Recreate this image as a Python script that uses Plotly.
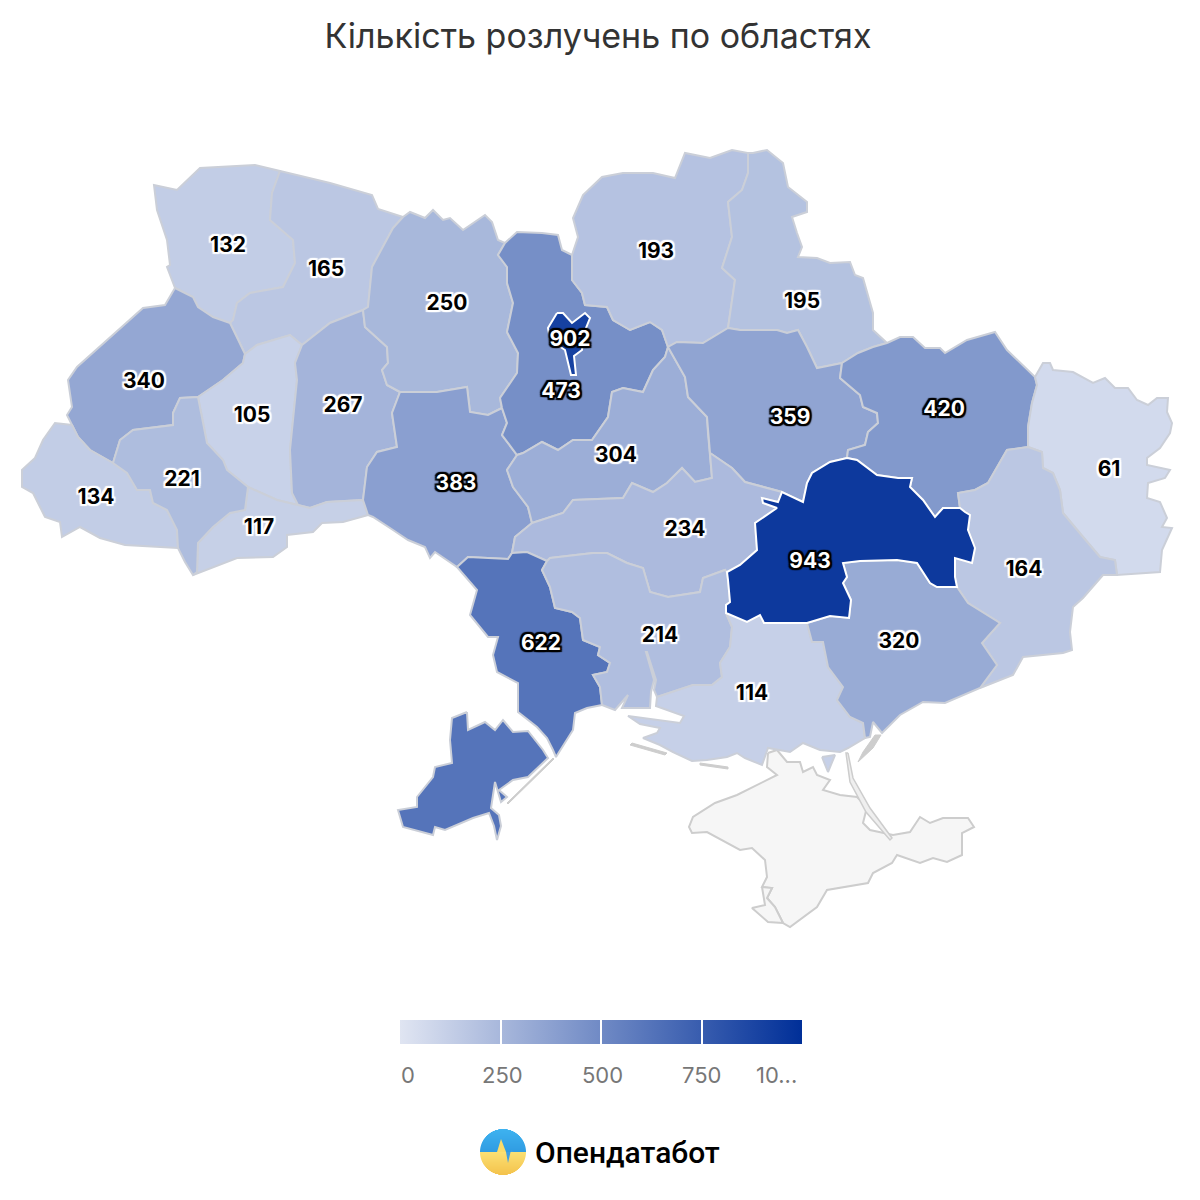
import plotly.graph_objects as go
from plotly.colors import sample_colorscale

# values per oblast
regions = ["Volyn", "Rivne", "Lviv", "Ternopil", "Khmelnytskyi", "Chernivtsi", "Zakarpattia", "Ivano-Frankivsk",
           "Zhytomyr", "Vinnytsia", "Kyiv", "Cherkasy", "Chernihiv", "Sumy", "Poltava", "Kharkiv", "Luhansk",
           "Donetsk", "Kirovohrad", "Odesa", "Mykolaiv", "Kherson", "Zaporizhzhia", "Dnipropetrovsk", "Kyiv city"]
divorces = [132, 165, 340, 105, 267, 117, 134, 221,
            250, 383, 473, 304, 193, 195, 359, 420, 61,
            164, 234, 622, 214, 114, 320, 943, 902]
label_x = [228, 326, 144, 252, 343, 259, 96, 182, 447, 456, 561, 616, 656, 802, 790, 944, 1109, 1024, 685, 541, 660, 752, 899, 810, 570]
label_y = [247, 271, 383, 417, 407, 529, 499, 481, 305, 485, 393, 457, 253, 303, 419, 411, 471, 571, 531, 645, 637, 695, 643, 563, 341]
colorbar_ticks = [0, 250, 500, 750, 1000]
colorbar_labels = ["0", "250", "500", "750", "10..."]
tick_label_x = [408, 502, 602, 702, 776]
colorscale = [[0, "#e0e5f2"], [1, "#002f98"]]

# shared borders in picture units
vol_out = [(175,288),(167,267),(170,265),(167,240),(157,210),(154,185),(177,190),(200,168),(255,165),(280,171)]
vol_riv = [(280,171),(272,193),(270,220),(293,240),(295,263),(283,287),(250,293),(237,303),(233,320),(230,323)]
vol_lvi = [(230,323),(213,317),(198,307),(193,297),(175,288)]
riv_out = [(280,171),(330,183),(372,195),(378,209),(403,217)]
riv_zhy = [(403,217),(393,228),(372,267),(368,307),(363,310)]
riv_khm = [(363,310),(330,323),(302,345)]
riv_ter = [(302,345),(290,335),(257,345),(245,354)]
riv_lvi = [(245,354),(237,337),(230,323)]
lvi_out = [(175,288),(165,305),(143,308),(107,340),(77,367),(68,380),(72,407),(67,415),(72,425)]
lvi_zak = [(72,425),(78,437),(90,450),(113,463)]
lvi_if = [(113,463),(120,440),(133,430),(173,425),(173,413),(180,398),(198,397)]
lvi_ter = [(198,397),(223,380),(243,363),(245,354)]
ter_if = [(198,397),(207,443),(223,460),(227,470),(248,487)]
ter_che = [(248,487),(277,500),(298,505)]
ter_khm = [(298,505),(292,493),(290,450),(293,417),(297,380),(295,363),(302,345)]
khm_zhy = [(363,310),(365,327),(387,347),(388,363),(382,370),(387,385),(400,392)]
khm_vin = [(400,392),(392,413),(397,447),(377,452),(367,467),(363,500)]
khm_che = [(363,500),(327,502),(310,508),(298,505)]
che_out = [(363,500),(368,515),(343,522),(322,523),(313,532),(287,535),(287,547),(273,557),(237,558),(207,570),(193,575)]
che_if = [(193,575),(197,572),(198,543),(213,527),(230,513),(245,510),(248,487)]
zak_if = [(113,463),(127,473),(137,490),(150,490),(153,503),(167,510),(177,530),(178,548)]
if_out = [(178,548),(185,562),(193,575)]
zak_out = [(178,548),(157,547),(125,545),(100,538),(80,527),(62,537),(60,522),(45,517),(33,493),(22,487),(22,470),(35,458),(43,440),(55,423),(72,425)]
zhy_out = [(403,217),(410,212),(425,218),(433,210),(443,220),(450,218),(463,230),(485,215),(492,222),(498,240),(505,243)]
zhy_kyi = [(505,243),(498,255),(507,267),(507,283),(513,303),(507,332),(518,353),(517,373),(500,398),(502,408)]
zhy_vin = [(502,408),(488,415),(470,412),(467,387),(437,392),(400,392)]
vin_kyi = [(502,408),(507,423),(502,435),(517,455)]
vin_cherk = [(517,455),(507,470),(513,487),(528,507),(532,523)]
vin_kir = [(532,523),(515,537),(512,553)]
vin_ode = [(512,553),(508,559),(468,557),(457,567)]
vin_out = [(457,567),(435,552),(430,558),(425,547),(408,540),(393,530),(373,517),(368,515),(363,500)]
kyi_che = [(668,347),(662,330),(650,322),(630,330),(613,320),(607,307),(585,305),(582,293),(572,280),(572,255)]
kyi_out = [(572,255),(562,250),(558,235),(542,233),(517,232),(505,243)]
kyi_cherk = [(517,455),(523,453),(542,442),(558,450),(573,440),(592,440),(608,417),(612,392),(623,388),(643,392),(653,370),(665,357),(668,347)]
cherk_kir = [(532,523),(563,513),(573,500),(623,498),(632,483),(653,492),(667,483),(682,468),(695,482),(712,478),(710,453)]
cherk_pol = [(710,453),(708,433),(707,417),(688,397),(685,377),(668,347)]
chern_out = [(572,255),(578,237),(573,218),(583,195),(602,177),(623,173),(653,173),(675,178),(685,153),(710,158),(732,150),(748,153)]
chern_sum = [(748,153),(748,173),(742,190),(728,202),(732,237),(722,268),(735,280),(728,328)]
chern_pol = [(728,328),(703,343),(677,342),(668,347)]
sum_out = [(748,153),(753,153),(767,150),(783,163),(788,187),(807,202),(807,212),(792,217),(797,233),(802,247),(798,257),(817,258),(830,263),(850,262),(855,275),(863,278),(873,313),(873,330),(887,343)]
sum_khr = [(887,343),(873,347),(858,353),(842,363)]
sum_pol = [(842,363),(817,368),(807,347),(798,330),(787,333),(777,330),(740,330),(728,328)]
pol_khr = [(842,363),(840,378),(860,395),(863,407),(877,413),(878,423),(868,432),(865,445),(848,450),(847,458)]
pol_dni = [(847,458),(830,462),(812,473),(807,483),(803,502),(782,492)]
pol_kir = [(782,492),(745,482),(732,468),(710,453)]
khr_out = [(887,343),(900,337),(913,337),(925,348),(940,348),(945,353),(967,340),(995,332),(1007,350),(1035,377)]
khr_luh = [(1035,377),(1037,385),(1032,403),(1028,427),(1028,447)]
khr_don = [(1028,447),(1007,450),(988,483),(975,490),(958,493),(960,508)]
khr_dni = [(960,508),(943,508),(935,517),(923,500),(910,487),(912,478),(898,478),(877,475),(857,460),(847,458)]
luh_out = [(1035,377),(1043,363),(1050,363),(1053,370),(1073,372),(1093,383),(1105,378),(1115,388),(1128,388),(1137,400),(1148,405),(1157,398),(1168,398),(1167,412),(1172,423),(1170,433),(1160,448),(1147,458),(1147,465),(1170,470),(1165,478),(1148,483),(1147,498),(1160,502),(1167,518),(1162,527),(1172,528),(1162,550),(1160,572),(1117,575)]
luh_don = [(1117,575),(1115,560),(1100,557),(1083,537),(1063,513),(1060,490),(1053,473),(1043,468),(1042,452),(1028,447)]
don_dni = [(960,508),(965,512),(970,515),(968,530),(975,548),(972,563),(955,558),(955,577),(957,587)]
don_zap = [(957,587),(968,603),(1000,623),(982,643),(997,665),(980,688)]
don_out = [(980,688),(1013,675),(1023,657),(1063,653),(1072,650),(1070,632),(1073,607),(1083,598),(1103,575),(1117,575)]
dni_zap = [(957,587),(937,587),(930,583),(917,563),(897,560),(860,561),(843,563),(847,577),(843,583),(851,600),(849,618),(830,616),(807,623)]
dni_khe = [(807,623),(797,623),(764,623),(760,615),(747,622),(726,613)]
dni_myk = [(726,613),(726,605),(730,602),(728,580),(727,572)]
dni_kir = [(727,572),(740,565),(757,550),(755,523),(777,508),(763,503),(762,498),(778,502),(782,492)]
kir_myk = [(547,561),(550,558),(593,553),(607,553),(627,563),(643,568),(650,592),(668,597),(700,592),(703,578),(725,570),(727,572)]
kir_ode = [(512,553),(527,552),(547,561)]
ode_myk = [(547,561),(542,570),(550,587),(555,608),(572,612),(580,618),(583,640),(600,647),(598,655),(610,663),(607,672),(593,675),(600,687),(602,705)]
ode_coast = [(602,705),(587,708),(575,713),(573,730),(556,757),(553,750),(547,738),(537,727),(518,712),(518,683),(497,672),(493,655),(498,637),(488,637),(470,615),(477,590),(457,567)]
myk_khe = [(726,613),(732,627),(730,647),(720,663),(722,677),(712,685),(693,685),(657,697)]
myk_coast = [(657,697),(654,690),(656,680),(647,652),(646,652),(654,680),(651,692),(650,708),(622,708),(628,695),(615,710),(602,705)]
khe_zap = [(807,623),(812,642),(823,642),(828,667),(843,687),(837,700),(850,717),(863,723),(865,738)]
khe_coast = [(865,738),(848,748),(840,752),(820,750),(803,743),(790,752),(768,748),(762,765),(745,758),(737,753),(727,757),(707,760),(692,761),(673,752),(660,745),(643,738),(657,733),(660,728),(640,724),(628,716),(657,720),(680,723),(684,716),(672,712),(656,706),(657,697)]
zap_coast = [(980,688),(945,703),(923,702),(900,715),(882,733),(873,722),(870,737),(865,738)]
bessarabia = [(467,712),(452,718),(450,740),(452,763),(435,767),(433,777),(417,797),(417,807),(398,810),(403,827),(433,835),(435,827),(445,830),(473,818),(489,813),(494,826),(497,840),(501,826),(499,815),(491,808),(495,782),(501,802),(507,797),(499,790),(513,780),(528,777),(548,758),(543,750),(528,731),(513,732),(503,720),(495,730),(485,722),(478,725),(468,730)]
kherson_bit = [(822,757),(835,755),(828,772)]
kyiv_city = [(557,313),(563,313),(572,323),(585,313),(590,318),(584,333),(582,350),(574,356),(576,375),(571,375),(565,350),(550,340),(548,328)]
crimea = [(768,753),(767,767),(777,775),(757,785),(737,795),(715,803),(693,817),(689,827),(692,833),(707,832),(740,850),(752,848),(765,860),(767,877),(762,887),(772,888),(767,898),(775,907),(783,923),(790,927),(817,907),(827,890),(868,883),(873,873),(892,863),(897,855),(920,863),(933,858),(947,862),(962,855),(962,833),(974,827),(968,818),(943,818),(930,823),(920,817),(910,832),(893,835),(870,830),(863,823),(867,807),(857,797),(840,795),(823,790),(830,780),(817,775),(813,767),(803,772),(800,762),(787,762),(777,750)]
sevastopol = [(762,887),(772,888),(767,898),(775,907),(783,923),(768,922),(752,908),(765,905)]
arabat = [(848,753),(853,778),(870,808),(892,838),(890,840),(866,812),(850,782),(846,753)]
spits = [
    [(507,803),(530,780),(553,758),(554,759),(531,781),(508,804)],
    [(632,743),(667,753),(665,755),(630,745)],
    [(700,763),(728,767),(728,769),(700,765)],
    [(881,735),(873,748),(858,762),(863,752),(875,735)],
]


def rev(arc):
    return arc[::-1]


outlines = {
    "Volyn": [vol_out + vol_riv + vol_lvi],
    "Rivne": [riv_out + riv_zhy + riv_khm + riv_ter + riv_lvi + rev(vol_riv)],
    "Lviv": [lvi_out + lvi_zak + lvi_if + lvi_ter + riv_lvi + vol_lvi],
    "Ternopil": [ter_if + ter_che + ter_khm + riv_ter + rev(lvi_ter)],
    "Khmelnytskyi": [rev(riv_khm) + khm_zhy + khm_vin + khm_che + ter_khm],
    "Chernivtsi": [che_out + che_if + ter_che + rev(khm_che)],
    "Zakarpattia": [zak_out + lvi_zak + zak_if],
    "Ivano-Frankivsk": [zak_if + if_out + che_if + rev(ter_if) + rev(lvi_if)],
    "Zhytomyr": [zhy_out + zhy_kyi + zhy_vin + rev(khm_zhy) + rev(riv_zhy)],
    "Vinnytsia": [rev(zhy_vin) + vin_kyi + vin_cherk + vin_kir + vin_ode + vin_out + rev(khm_vin)],
    "Kyiv": [kyi_out + zhy_kyi + vin_kyi + kyi_cherk + kyi_che],
    "Cherkasy": [kyi_cherk + rev(cherk_pol) + rev(cherk_kir) + rev(vin_cherk)],
    "Chernihiv": [chern_out + chern_sum + chern_pol + kyi_che],
    "Sumy": [sum_out + sum_khr + sum_pol + rev(chern_sum)],
    "Poltava": [rev(sum_pol) + pol_khr + pol_dni + pol_kir + cherk_pol + rev(chern_pol)],
    "Kharkiv": [khr_out + khr_luh + khr_don + khr_dni + rev(pol_khr) + rev(sum_khr)],
    "Luhansk": [luh_out + luh_don + rev(khr_luh)],
    "Donetsk": [khr_don + don_dni + don_zap + don_out + luh_don],
    "Dnipropetrovsk": [pol_dni + rev(dni_kir) + rev(dni_myk) + rev(dni_khe) + rev(dni_zap) + rev(don_dni) + khr_dni],
    "Kirovohrad": [cherk_kir + rev(pol_kir) + rev(dni_kir) + rev(kir_myk) + rev(kir_ode) + rev(vin_kir)],
    "Odesa": [ode_coast + rev(vin_ode) + kir_ode + ode_myk, bessarabia],
    "Mykolaiv": [kir_myk + rev(dni_myk) + myk_khe + myk_coast + rev(ode_myk)],
    "Kherson": [rev(myk_khe) + rev(dni_khe) + khe_zap + khe_coast, kherson_bit],
    "Zaporizhzhia": [rev(dni_zap) + don_zap + zap_coast + rev(khe_zap)],
    "Kyiv city": [kyiv_city],
}


def add_area(fig, polys, fill, line, width=2):
    xs, ys = [], []
    for poly in polys:
        closed = list(poly) + [poly[0]]
        xs += [p[0] for p in closed] + [None]
        ys += [p[1] for p in closed] + [None]
    fig.add_trace(go.Scatter(x=xs, y=ys, mode="lines", fill="toself", fillcolor=fill,
                             line=dict(color=line, width=width), hoverinfo="skip", showlegend=False))


fig = go.Figure()

add_area(fig, [crimea], "#f6f6f6", "#cdcdcd")
add_area(fig, [sevastopol], "#f6f6f6", "#cdcdcd")
add_area(fig, [arabat], "#efefef", "#cdcdcd", 1.5)
add_area(fig, spits, "#cdcdcd", "#cdcdcd", 1)

fills = sample_colorscale(colorscale, [v / 1000 for v in divorces])
for name, value, fill in zip(regions, divorces, fills):
    line = "#ffffff" if value > 900 else "#cbcfd8"
    add_area(fig, outlines[name], fill, line)


def halo(color):
    return ",".join(f"{dx}px {dy}px 1px {color}" for dx in (-2, 0, 2) for dy in (-2, 0, 2))


# the labels carry the colour axis, so the colour bar comes from the same values
# darker areas get white digits with a black edge, the rest black with a white edge
for dark in (False, True):
    keep = [i for i, v in enumerate(divorces) if (v >= 350) == dark]
    fig.add_trace(go.Scatter(
        x=[label_x[i] for i in keep],
        y=[label_y[i] for i in keep],
        mode="markers+text",
        text=[str(divorces[i]) for i in keep],
        textposition="middle center",
        textfont=dict(family="Inter", size=21, color="#ffffff" if dark else "#000000", weight=700,
                      shadow=halo("#000000" if dark else "#ffffff")),
        marker=dict(size=1, color=[divorces[i] for i in keep], coloraxis="coloraxis"),
        hoverinfo="skip",
        showlegend=False,
    ))

annotations = []
for x, label in zip(tick_label_x, colorbar_labels):
    annotations.append(dict(x=x, y=1075, xref="x", yref="y", text=label, showarrow=False,
                            xanchor="center", yanchor="middle",
                            font=dict(family="Inter", size=22, color="#777777")))
annotations.append(dict(x=627, y=1152, xref="x", yref="y", text="Опендатабот", showarrow=False,
                        xanchor="center", yanchor="middle",
                        font=dict(family="Roboto", size=30, color="#000000", weight=500)))

shapes = []
# logo disk, one strip per pixel row to get the vertical gradient
for row in range(-23, 23):
    half = (23 ** 2 - (row + 0.5) ** 2) ** 0.5
    if row < 0:
        t = (row + 23) / 23
        color = f"rgb({int(62 - 14 * t)},{int(178 - 22 * t)},{int(240 - 14 * t)})"
    else:
        t = row / 23
        color = f"rgb({int(252 - 8 * t)},{int(224 - 30 * t)},{int(115 - 40 * t)})"
    shapes.append(dict(type="rect", xref="x", yref="y", line_width=0, fillcolor=color,
                       x0=503 - half, x1=503 + half, y0=1152 + row, y1=1153 + row))
pulse_up = [(497, 1152), (501, 1139), (506, 1152)]
pulse_down = [(506, 1152), (508, 1163), (511, 1150), (514, 1152)]
for pts, color in ((pulse_up, "#fbdc6a"), (pulse_down, "#3f9fe2")):
    path = "M " + " L ".join(f"{x},{y}" for x, y in pts) + " Z"
    shapes.append(dict(type="path", xref="x", yref="y", path=path, fillcolor=color, line_width=0))

# the page body sits 8 px in, so the plot is 1192 wide and the axes start at 8
fig.update_layout(
    width=1192, height=1192,
    margin=dict(l=0, r=0, t=0, b=0),
    paper_bgcolor="#ffffff",
    plot_bgcolor="#ffffff",
    xaxis=dict(range=[8, 1200], visible=False, domain=[0, 1]),
    yaxis=dict(range=[1200, 8], visible=False, domain=[0, 1]),
    title=dict(text="Кількість розлучень по областях", x=(598 - 8) / 1192, xanchor="center",
               y=1 - (36 - 8) / 1192, yanchor="middle",
               font=dict(family="Inter", size=34, color="#333333")),
    coloraxis=dict(
        colorscale=colorscale,
        cmin=0, cmax=1000,
        colorbar=dict(
            orientation="h",
            x=(400 - 8) / 1192, xanchor="left", xpad=0,
            y=1 - (1068 - 8) / 1192, yanchor="bottom", ypad=0,
            len=402, lenmode="pixels",
            thickness=24, thicknessmode="pixels",
            outlinewidth=0,
            tickmode="array",
            tickvals=colorbar_ticks,
            ticks="inside", ticklen=24, tickwidth=2, tickcolor="#ffffff",
            showticklabels=False,
        ),
    ),
    annotations=annotations,
    shapes=shapes,
    showlegend=False,
)

fig.write_html("out.html")
